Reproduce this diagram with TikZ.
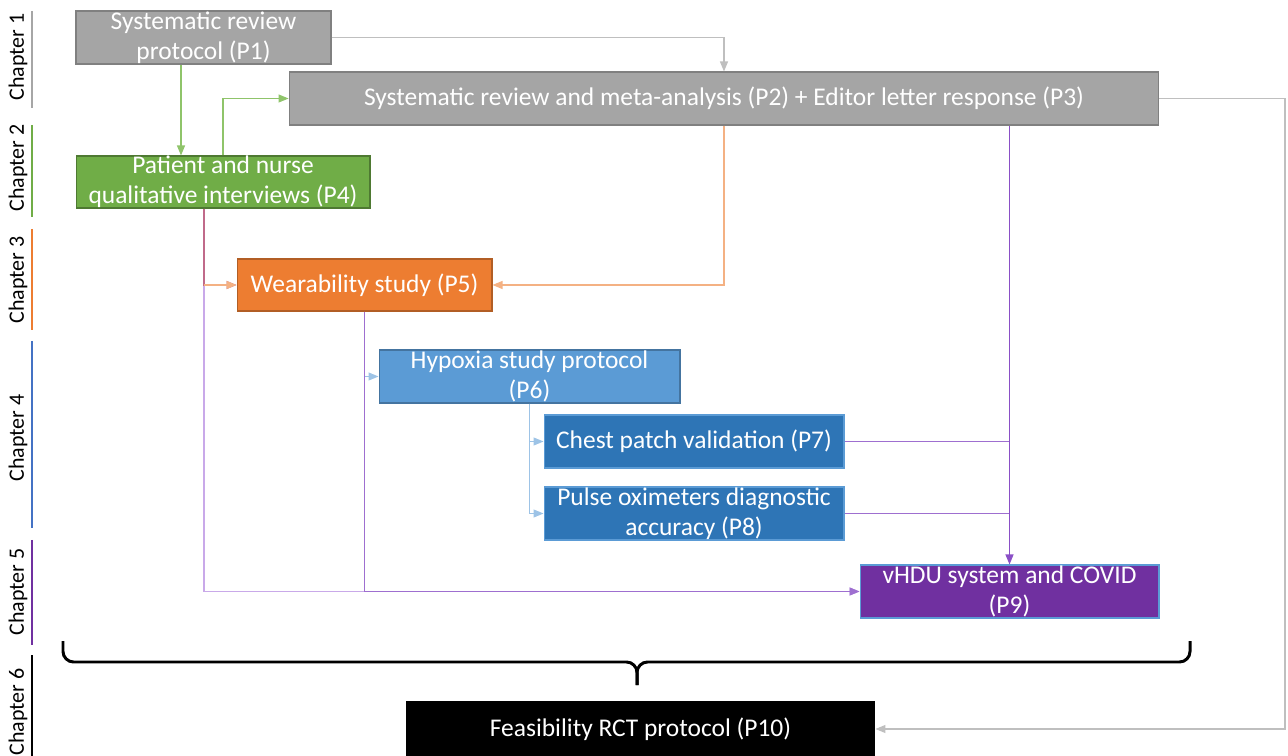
\documentclass[tikz,border=0pt]{standalone}
\usepackage{fontspec}
\setmainfont{Carlito}
\usetikzlibrary{arrows.meta}
\definecolor{boxgray}{HTML}{A5A5A5}
\definecolor{boxgreen}{HTML}{70AD47}
\definecolor{boxorange}{HTML}{ED7D31}
\definecolor{boxlblue}{HTML}{5B9BD5}
\definecolor{boxblue}{HTML}{2E75B6}
\definecolor{boxpurple}{HTML}{7030A0}
\definecolor{chblue}{HTML}{4472C4}
\definecolor{lngray}{HTML}{BFBFBF}
\definecolor{lngreen}{HTML}{8FC46A}
\definecolor{lnorange}{HTML}{F4B183}
\definecolor{lnblue}{HTML}{9DC3E6}
\definecolor{lnpurple}{HTML}{9E6FD0}
\definecolor{lnviolet}{HTML}{8A4FC6}
\definecolor{lnlilac}{HTML}{C9A9E9}
\definecolor{lnmauve}{HTML}{C06A8A}
\tikzset{
  paper/.style={draw, line width=0.6pt, text=white, inner sep=0pt, align=center,
    minimum height=1.06cm, font=\fontsize{14.5}{17}\selectfont},
  link/.style={line width=0.6pt, -{Triangle[length=0.2cm,width=0.16cm]}},
  chap/.style={rotate=90, font=\fontsize{12.5}{14}\selectfont},
  bar/.style={line width=1.7pt}
}

\begin{document}
\begin{tikzpicture}[x=0.02cm, y=-0.02cm]
  \useasboundingbox (0,0) rectangle (1288,756);
  \node[paper, fill=boxgray, draw=gray, minimum width=5.1cm] (p1) at (203.5,37.5) {Systematic review\\protocol (P1)};
  \node[paper, fill=boxgray, draw=gray, minimum width=17.4cm] (p2) at (724,98.5) {Systematic review and meta-analysis (P2) + Editor letter response (P3)};
  \node[paper, fill=boxgreen, draw=boxgreen!70!black, minimum width=5.88cm, minimum height=1.04cm] (p4) at (223,182) {Patient and nurse\\qualitative interviews (P4)};
  \node[paper, fill=boxorange, draw=boxorange!75!black, minimum width=5.1cm, minimum height=1.04cm] (p5) at (364.5,285) {Wearability study (P5)};
  \node[paper, fill=boxlblue, draw=boxlblue!75!black, minimum width=6.02cm] (p6) at (529.5,376.5) {Hypoxia study protocol\\(P6)};
  \node[paper, fill=boxblue, draw=boxlblue, minimum width=6cm] (p7) at (694,441.5) {Chest patch validation (P7)};
  \node[paper, fill=boxblue, draw=boxlblue, minimum width=6cm] (p8) at (694,513.5) {Pulse oximeters diagnostic\\accuracy (P8)};
  \node[paper, fill=boxpurple, draw=boxlblue, minimum width=5.98cm] (p9) at (1009.5,591.5) {vHDU system and COVID\\(P9)};
  \node[paper, fill=black, draw=black, minimum width=9.38cm, minimum height=1.08cm] (p10) at (640.5,729) {Feasibility RCT protocol (P10)};

  \node[chap] (c1) at (18,57) {Chapter 1};
  \node[chap] (c2) at (18,168) {Chapter 2};
  \node[chap] (c3) at (18,280) {Chapter 3};
  \node[chap] (c4) at (18,438) {Chapter 4};
  \node[chap] (c5) at (18,592) {Chapter 5};
  \node[chap] (c6) at (18,712) {Chapter 6};
  \draw[bar, gray!70] (32,11) -- (32,108);
  \draw[bar, boxgreen] (32,125) -- (32,217);
  \draw[bar, boxorange] (32,229) -- (32,330);
  \draw[bar, chblue] (32,341) -- (32,528);
  \draw[bar, boxpurple] (32,540) -- (32,645);
  \draw[bar, black] (32,655) -- (32,756);

  \coordinate (rt) at (1285,98.5);
  \draw[link, lngray] (p1.east) -| (p2.north);
  \draw[link, lngray] (p2.east) -- (rt) |- (p10.east);
  \draw[link, lngreen] ([xshift=-0.45cm]p1.south) -- ([xshift=-0.45cm]p1.south |- p4.north);
  \draw[link, lngreen] (p4.north) |- (p2.west);
  \draw[link, lnblue] (p5.south) |- (p6.west);
  \draw[link, lnblue] (p6.south) |- (p7.west);
  \draw[link, lnblue] (p6.south) |- (p8.west);
  \draw[link, lnlilac] ([xshift=-0.38cm]p4.south) |- (p9.west);
  \draw[link, lnpurple] (p5.south) |- (p9.west);
  \draw[link, lnorange] (p2.south) |- (p5.east);
  \draw[link, lnmauve] ([xshift=-0.38cm]p4.south) |- (p5.west);
  \draw[link, lnorange] ([xshift=-0.38cm]p4.south |- p5.west) -- (p5.west);
  \draw[line width=0.6pt, lnpurple] (p7.east) -- (p7.east -| p9.north);
  \draw[line width=0.6pt, lnpurple] (p8.east) -- (p8.east -| p9.north);
  \draw[link, lnviolet] (p2.south -| p9.north) -- (p9.north);

  \coordinate (bl) at (63,641);
  \coordinate (br) at (1190,641);
  \coordinate (bt) at (637,685);
  \draw[line width=1.7pt, rounded corners=6] (bl) |- (bt |- 0,662) -- (bt);
  \draw[line width=1.7pt, rounded corners=6] (br) |- (bt |- 0,662) -- (bt);
\end{tikzpicture}
\end{document}
